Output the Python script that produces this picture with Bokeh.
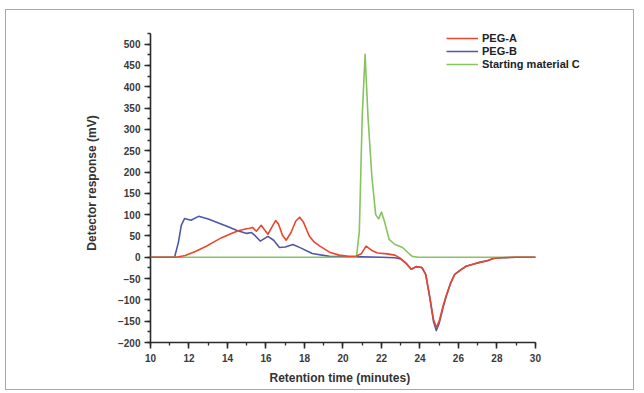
from bokeh.plotting import figure
from bokeh.models import Legend, LegendItem, SingleIntervalTicker, Range1d, Title
from bokeh.embed import file_html
from bokeh.resources import INLINE

# Retention time (minutes) and detector response (mV)
peg_a_t = [10, 11.0, 11.35, 11.8, 12.3, 12.9, 13.3, 13.7, 14.2, 14.6, 15.0, 15.15, 15.3, 15.5, 15.75,
           16.1, 16.3, 16.5, 16.65, 16.85, 17.05, 17.3, 17.55, 17.75, 17.95, 18.25, 18.5, 18.8, 19.3,
           19.8, 20.3, 20.7, 20.95, 21.2, 21.5, 21.8, 22.3, 22.7, 23.0, 23.3, 23.55, 23.8, 24.1, 24.3,
           24.5, 24.7, 24.85, 25.0, 25.2, 25.35, 25.6, 25.8, 26.1, 26.4, 26.8, 27.1, 27.5, 27.8, 28.2,
           29.0, 30.0]
peg_a_y = [0, 0, 0, 4, 13, 26, 36, 46, 56, 63, 67, 68, 70, 61, 75,
           54, 70, 86, 78, 52, 40, 58, 85, 94, 82, 50, 36, 26, 12,
           5, 2, 3, 8, 26, 16, 10, 8, 5, -3, -15, -28, -22, -24, -40,
           -90, -145, -165, -150, -115, -92, -60, -40, -30, -21, -16, -12, -8, -3, -1,
           0, 0]

peg_b_t = [10, 11.0, 11.25, 11.45, 11.6, 11.77, 12.1, 12.5, 13.0, 13.5, 14.0, 14.5, 15.0, 15.25,
           15.45, 15.7, 16.1, 16.4, 16.7, 17.0, 17.4, 17.8, 18.4, 19.3, 20.0, 21.0, 22.0, 22.7,
           23.0, 23.3, 23.55, 23.8, 24.1, 24.3, 24.5, 24.7, 24.85, 25.0, 25.2, 25.35, 25.6, 25.8,
           26.1, 26.4, 26.8, 27.1, 27.5, 27.8, 28.2, 29.0, 30.0]
peg_b_y = [0, 0, 0, 35, 75, 91, 87, 96, 90, 81, 72, 63, 56, 58,
           50, 38, 49, 40, 23, 24, 30, 22, 9, 2, 1, 1, 0, -1,
           -4, -15, -28, -22, -24, -40, -92, -150, -172, -155, -118, -94, -60, -41,
           -30, -21, -16, -12, -8, -3, -1, 0, 0]

start_c_t = [10, 15, 20.0, 20.7, 20.85, 21.0, 21.15, 21.3, 21.5, 21.7, 21.85, 22.0, 22.15, 22.4,
             22.7, 23.1, 23.4, 23.6, 23.9, 25, 30]
start_c_y = [0, 0, 0, 0, 60, 330, 476, 330, 190, 100, 90, 106, 85, 42,
             30, 23, 10, 2, 0, 0, 0]

names = ["PEG-A", "PEG-B", "Starting material C"]
colors = ["#e8472e", "#4d57a8", "#86c45e"]

X_AXIS = (10, 30)
Y_AXIS = (-200, 525)

FONT = "Liberation Sans"

# frame is widened beyond the axes so that the legend (which sits partly right of
# the x-axis end) is not clipped; the axes are limited with `bounds`.
p = figure(width=629, height=381, output_backend="svg", toolbar_location=None,
           x_range=Range1d(10, 35.2), y_range=Range1d(-200, 548.5),
           min_border_left=144, min_border_right=0, min_border_top=13, min_border_bottom=49,
           background_fill_color="white", border_fill_color="white",
           styles={"border": "1px solid #a8a8a8", "margin-left": "5px", "margin-top": "9px"})
p.outline_line_color = None
p.xgrid.visible = False
p.ygrid.visible = False

series = [(peg_a_t, peg_a_y), (peg_b_t, peg_b_y), (start_c_t, start_c_y)]
renderers = []
for (t, y), c in zip(series, colors):
    r = p.line(t, y, line_color=c, line_width=1.6, line_join="round")
    renderers.append(r)
renderers[0].level = "overlay"

p.xaxis.ticker = SingleIntervalTicker(interval=2, num_minor_ticks=2)
p.yaxis.ticker = SingleIntervalTicker(interval=50, num_minor_ticks=2)
p.xaxis.bounds = X_AXIS
p.yaxis.bounds = Y_AXIS
for ax in (p.xaxis[0], p.yaxis[0]):
    ax.axis_line_color = "#2a2a2a"
    ax.axis_line_width = 1.6
    ax.major_tick_line_color = "#2a2a2a"
    ax.minor_tick_line_color = "#2a2a2a"
    ax.major_tick_line_width = 1.6
    ax.minor_tick_line_width = 1.3
    ax.major_tick_out = 6
    ax.major_tick_in = 0
    ax.minor_tick_out = 3
    ax.minor_tick_in = 0
    ax.major_label_text_font = FONT
    ax.major_label_text_font_size = "10px"
    ax.major_label_text_font_style = "bold"
    ax.major_label_text_color = "#3a3a3a"
    ax.axis_label_text_font = FONT
    ax.axis_label_text_font_size = "12px"
    ax.axis_label_text_font_style = "bold"
    ax.axis_label_text_color = "#333333"

p.yaxis.axis_label = "Detector response (mV)"
p.xaxis.major_label_standoff = 5
p.yaxis.major_label_standoff = 4
p.yaxis.axis_label_standoff = 16

# x-axis title placed under the bounded axis (not under the widened frame)
xtitle = Title(text="Retention time (minutes)", align="left", offset=119,
               text_font=FONT, text_font_size="12px", text_font_style="bold",
               text_color="#333333", standoff=9)
p.add_layout(xtitle, "below")

legend = Legend(items=[LegendItem(label=n, renderers=[r]) for n, r in zip(names, renderers)],
                location=(296, 272), orientation="vertical",
                background_fill_alpha=0, border_line_color=None,
                glyph_width=32, glyph_height=12, label_height=12, label_standoff=4,
                spacing=1, padding=0, margin=0,
                label_text_font=FONT, label_text_font_size="11px",
                label_text_font_style="bold", label_text_color="#222222")
p.add_layout(legend, "center")

open("out.html", "w").write(file_html(p, INLINE))
